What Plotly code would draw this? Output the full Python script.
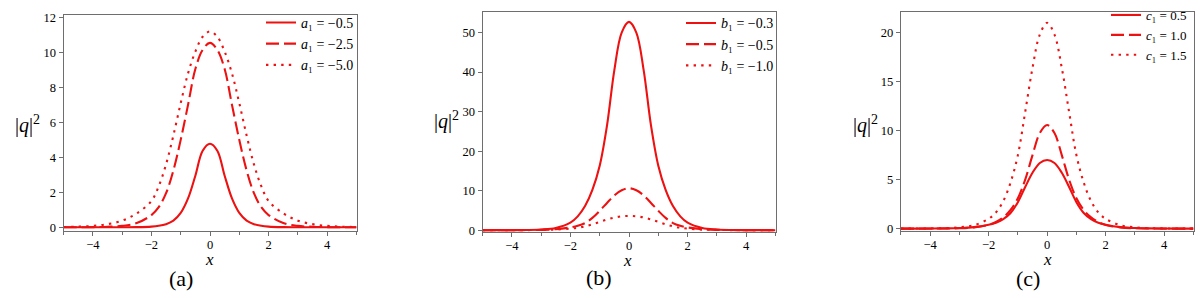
import plotly.graph_objects as go

# ---------------- data ----------------
X = [-5, -4.5, -4, -3.5, -3, -2.5, -2, -1.75, -1.5, -1.25, -1, -0.75, -0.5, -0.25, 0,
     0.25, 0.5, 0.75, 1, 1.25, 1.5, 1.75, 2, 2.5, 3, 3.5, 4, 4.5, 5]

# panel (a)
A_LABELS = ["-0.5", "-2.5", "-5.0"]
A_SOLID = [0, 0, 0, 0.001, 0.003, 0.01, 0.04, 0.085, 0.18, 0.38, 0.82, 1.65, 2.95, 4.38, 4.78,
           4.38, 2.95, 1.65, 0.82, 0.38, 0.18, 0.085, 0.04, 0.01, 0.003, 0.001, 0, 0, 0]
A_DASH = [0.001, 0.004, 0.01, 0.03, 0.08, 0.24, 0.7, 1.15, 1.95, 3.25, 5.0, 7.0, 9.05, 10.15, 10.55,
          10.15, 9.05, 7.0, 5.0, 3.25, 1.95, 1.15, 0.7, 0.24, 0.08, 0.03, 0.01, 0.004, 0.001]
A_DOT = [0.015, 0.035, 0.08, 0.18, 0.38, 0.8, 1.5, 2.35, 3.6, 5.25, 7.1, 8.8, 10.05, 10.9, 11.2,
         10.9, 10.05, 8.8, 7.1, 5.25, 3.6, 2.35, 1.5, 0.8, 0.38, 0.18, 0.08, 0.035, 0.015]

# panel (b)
B_LABELS = ["-0.3", "-0.5", "-1.0"]
B_SOLID = [0.001, 0.005, 0.015, 0.05, 0.17, 0.55, 1.9, 3.5, 6.1, 10.2, 16.3, 26.5, 40.5, 50.0, 52.7,
           50.0, 40.5, 26.5, 16.3, 10.2, 6.1, 3.5, 1.9, 0.55, 0.17, 0.05, 0.015, 0.005, 0.001]
B_DASH = [0.001, 0.003, 0.01, 0.03, 0.08, 0.25, 0.7, 1.1, 1.8, 3.1, 4.9, 6.9, 8.8, 10.1, 10.6,
          10.1, 8.8, 6.9, 4.9, 3.1, 1.8, 1.1, 0.7, 0.25, 0.08, 0.03, 0.01, 0.003, 0.001]
B_DOT = [0.001, 0.003, 0.008, 0.02, 0.055, 0.15, 0.4, 0.62, 0.98, 1.5, 2.1, 2.7, 3.2, 3.5, 3.6,
         3.5, 3.2, 2.7, 2.1, 1.5, 0.98, 0.62, 0.4, 0.15, 0.055, 0.02, 0.008, 0.003, 0.001]

# panel (c)
C_LABELS = ["0.5", "1.0", "1.5"]
C_SOLID = [0.002, 0.004, 0.01, 0.025, 0.06, 0.15, 0.4, 0.6, 0.97, 1.6, 2.7, 4.25, 5.7, 6.7, 7.0,
           6.7, 5.7, 4.25, 2.7, 1.6, 0.97, 0.6, 0.4, 0.15, 0.06, 0.025, 0.01, 0.004, 0.002]
C_DASH = [0, 0.001, 0.004, 0.012, 0.04, 0.13, 0.38, 0.68, 1.15, 1.9, 3.1, 5.0, 7.5, 9.75, 10.57,
          9.75, 7.5, 5.0, 3.1, 1.9, 1.15, 0.68, 0.38, 0.13, 0.04, 0.012, 0.004, 0.001, 0]
C_DOT = [0.003, 0.008, 0.02, 0.05, 0.13, 0.35, 1.0, 1.65, 2.8, 4.7, 7.5, 11.9, 16.4, 19.8, 21.0,
         19.8, 16.4, 11.9, 7.5, 4.7, 2.8, 1.65, 1.0, 0.35, 0.13, 0.05, 0.02, 0.008, 0.003]

# ---------------- layout helpers ----------------
W, H = 1200, 298
RED = "#ee1111"
SERIF = "Liberation Serif, Times New Roman, serif"
AXC = "#6e6e6e"


def fx(p):
    return p / W


def fy(p):
    return 1 - p / H


panels = [
    dict(letter="a", labels=A_LABELS, ys=[A_SOLID, A_DASH, A_DOT], xd=(63.5, 356.5), yd=(233.3, 7),
         yr=(-0.219, 12.16), dt=2, leg=(359, 37.5), qlab=(27, 122), xlab=(209, 263), tag=(181, 283), lf=14),
    dict(letter="b", labels=B_LABELS, ys=[B_SOLID, B_DASH, B_DOT], xd=(482.5, 775.5), yd=(234.5, 4),
         yr=(-0.53, 55.25), dt=10, leg=(779, 38), qlab=(446, 118), xlab=(627, 264), tag=(599, 282), lf=14),
    dict(letter="c", labels=C_LABELS, ys=[C_SOLID, C_DASH, C_DOT], xd=(900.8, 1193.5), yd=(233.3, 4),
         yr=(-0.254, 22.12), dt=5, leg=(1192, 28), qlab=(865, 122), xlab=(1047, 263), tag=(1028, 283), lf=13),
]

dashes = ["solid", "13px,5px", "2.4px,5.2px"]

fig = go.Figure()
layout = dict(width=W, height=H, margin=dict(l=0, r=0, t=0, b=0),
              paper_bgcolor="white", plot_bgcolor="white", annotations=[])

for i, p in enumerate(panels):
    n = "" if i == 0 else str(i + 1)
    legname = "legend" + n
    for j in range(3):
        fig.add_trace(go.Scatter(
            x=X, y=p["ys"][j], mode="lines",
            line=dict(color=RED, width=2.1, dash=dashes[j], shape="spline", smoothing=1.0),
            name="<i>%s</i>\u2081 = %s" % (p["letter"], p["labels"][j].replace("-", "\u2212")),
            xaxis="x" + n, yaxis="y" + n, legend=legname,
        ))
    axcommon = dict(showline=True, linecolor=AXC, linewidth=1, mirror=True, showgrid=False,
                    zeroline=False, ticks="outside", ticklen=4, tickcolor=AXC, tickwidth=1,
                    tickfont=dict(family=SERIF, size=12.5, color="black"))
    layout["xaxis" + n] = dict(axcommon, domain=[fx(p["xd"][0]), fx(p["xd"][1])], range=[-5, 5],
                               tick0=0, dtick=2, anchor="y" + n, ticklabelstandoff=-2,
                               minor=dict(dtick=1, ticks="outside", ticklen=3, tickcolor=AXC))
    layout["yaxis" + n] = dict(axcommon, domain=[fy(p["yd"][0]), fy(p["yd"][1])], range=list(p["yr"]),
                               tick0=0, dtick=p["dt"], anchor="x" + n)
    layout[legname] = dict(x=fx(p["leg"][0]), y=fy(p["leg"][1]), xanchor="right", yanchor="middle",
                           bgcolor="rgba(0,0,0,0)", borderwidth=0, itemwidth=30, tracegroupgap=0,
                           font=dict(family=SERIF, size=p["lf"], color="black"))
    layout["annotations"] += [
        dict(text="|<i>q</i>|<sup>2</sup>", x=fx(p["qlab"][0]), y=fy(p["qlab"][1]), xref="paper",
             yref="paper", showarrow=False, xanchor="center", yanchor="middle",
             font=dict(family=SERIF, size=20, color="black")),
        dict(text="<i>x</i>", x=fx(p["xlab"][0]), y=fy(p["xlab"][1]), xref="paper", yref="paper",
             showarrow=False, xanchor="center", yanchor="middle",
             font=dict(family=SERIF, size=17, color="black")),
        dict(text="(%s)" % p["letter"], x=fx(p["tag"][0]), y=fy(p["tag"][1]), xref="paper", yref="paper",
             showarrow=False, xanchor="center", yanchor="middle",
             font=dict(family=SERIF, size=22, color="black")),
    ]

fig.update_layout(**layout)
# remove the browser's default 8px page margin so the figure sits at the window origin
fig.write_html("out.html", config={"displayModeBar": False},
               post_script="document.body.style.margin='0px';")
